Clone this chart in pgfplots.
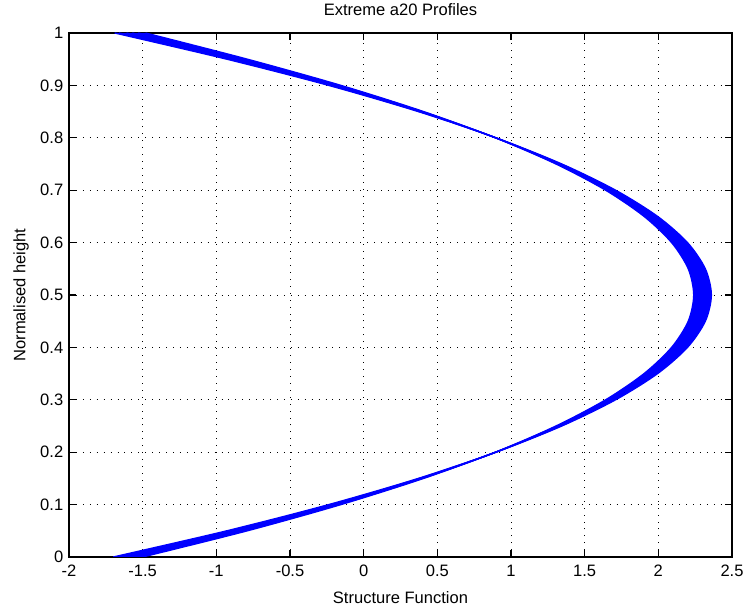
\documentclass[border=0pt]{standalone}
\usepackage{fontspec}
\setmainfont{Liberation Sans}
\usepackage{pgfplots}
\pgfplotsset{compat=1.18}
\usepgfplotslibrary{fillbetween}

\begin{document}
\fontsize{12.4}{14}\selectfont
\begin{tikzpicture}
\begin{axis}[
  scale only axis, width=497.25pt, height=393pt,
  xmin=-2, xmax=2.5, ymin=0, ymax=1,
  xtick={-2,-1.5,-1,-0.5,0,0.5,1,1.5,2,2.5},
  ytick={0,0.1,0.2,0.3,0.4,0.5,0.6,0.7,0.8,0.9,1},
  xticklabels={-2,-1.5,-1,-0.5,0,0.5,1,1.5,2,2.5},
  yticklabels={0,0.1,0.2,0.3,0.4,0.5,0.6,0.7,0.8,0.9,1},
  tick align=inside, xtick pos=both, ytick pos=both,
  major tick length=5pt,
  grid=major,
  major grid style={black, line width=0.6pt, dash pattern=on 0.6pt off 4.6pt},
  axis line style={black, line width=0.8pt},
  tick style={black, line width=0.8pt},
  ticklabel style={font=\fontsize{12.4}{14}\selectfont},
  xticklabel style={yshift=-1.5pt},
  title={Extreme a20 Profiles},
  title style={at={([yshift=11.2pt]axis description cs:0.5,1)}, anchor=center, font=\fontsize{12.4}{14}\selectfont},
  xlabel={Structure Function},
  xlabel style={at={([yshift=-30.75pt]axis description cs:0.5,0)}, anchor=center, font=\fontsize{12.4}{14}\selectfont},
  ylabel={Normalised height},
  ylabel style={at={([xshift=-36pt]axis description cs:0,0.5)}, anchor=center, font=\fontsize{12.4}{14}\selectfont},
]
\addplot[blue, line width=1pt, smooth, name path=A] coordinates {
(-1.500,0) (-0.789,0.05) (-0.154,0.1) (0.407,0.15) (0.894,0.2) (1.305,0.25) (1.642,0.3) (1.903,0.35) (2.090,0.4) (2.203,0.45) (2.240,0.5) (2.203,0.55) (2.090,0.6) (1.903,0.65) (1.642,0.7) (1.305,0.75) (0.894,0.8) (0.407,0.85) (-0.154,0.9) (-0.789,0.95) (-1.480,1)};
\addplot[blue, line width=1pt, smooth] coordinates {
(-1.540,0) (-0.817,0.05) (-0.171,0.1) (0.400,0.15) (0.895,0.2) (1.313,0.25) (1.655,0.3) (1.922,0.35) (2.112,0.4) (2.226,0.45) (2.264,0.5) (2.226,0.55) (2.112,0.6) (1.922,0.65) (1.655,0.7) (1.313,0.75) (0.895,0.8) (0.400,0.85) (-0.171,0.9) (-0.817,0.95) (-1.530,1)};
\addplot[blue, line width=1pt, smooth] coordinates {
(-1.580,0) (-0.845,0.05) (-0.188,0.1) (0.393,0.15) (0.896,0.2) (1.321,0.25) (1.669,0.3) (1.940,0.35) (2.133,0.4) (2.249,0.45) (2.288,0.5) (2.249,0.55) (2.133,0.6) (1.940,0.65) (1.669,0.7) (1.321,0.75) (0.896,0.8) (0.393,0.85) (-0.188,0.9) (-0.845,0.95) (-1.570,1)};
\addplot[blue, line width=1pt, smooth] coordinates {
(-1.620,0) (-0.873,0.05) (-0.204,0.1) (0.385,0.15) (0.896,0.2) (1.329,0.25) (1.683,0.3) (1.958,0.35) (2.155,0.4) (2.273,0.45) (2.312,0.5) (2.273,0.55) (2.155,0.6) (1.958,0.65) (1.683,0.7) (1.329,0.75) (0.896,0.8) (0.385,0.85) (-0.204,0.9) (-0.873,0.95) (-1.610,1)};
\addplot[blue, line width=1pt, smooth] coordinates {
(-1.660,0) (-0.901,0.05) (-0.221,0.1) (0.378,0.15) (0.897,0.2) (1.337,0.25) (1.697,0.3) (1.976,0.35) (2.176,0.4) (2.296,0.45) (2.336,0.5) (2.296,0.55) (2.176,0.6) (1.976,0.65) (1.697,0.7) (1.337,0.75) (0.897,0.8) (0.378,0.85) (-0.221,0.9) (-0.901,0.95) (-1.660,1)};
\addplot[blue, line width=1pt, smooth, name path=B] coordinates {
(-1.700,0) (-0.929,0.05) (-0.238,0.1) (0.371,0.15) (0.898,0.2) (1.345,0.25) (1.710,0.3) (1.995,0.35) (2.198,0.4) (2.319,0.45) (2.360,0.5) (2.319,0.55) (2.198,0.6) (1.995,0.65) (1.710,0.7) (1.345,0.75) (0.898,0.8) (0.371,0.85) (-0.238,0.9) (-0.929,0.95) (-1.690,1)};
\addplot[blue, draw=none] fill between[of=A and B];
\coordinate (sw) at (rel axis cs:0,0);
\coordinate (ne) at (rel axis cs:1,1);
\end{axis}
\pgfresetboundingbox
\path[use as bounding box] ([shift={(-51.75pt,-39.75pt)}]sw) rectangle ([shift={(8.25pt,24.75pt)}]ne);
\end{tikzpicture}
\end{document}
